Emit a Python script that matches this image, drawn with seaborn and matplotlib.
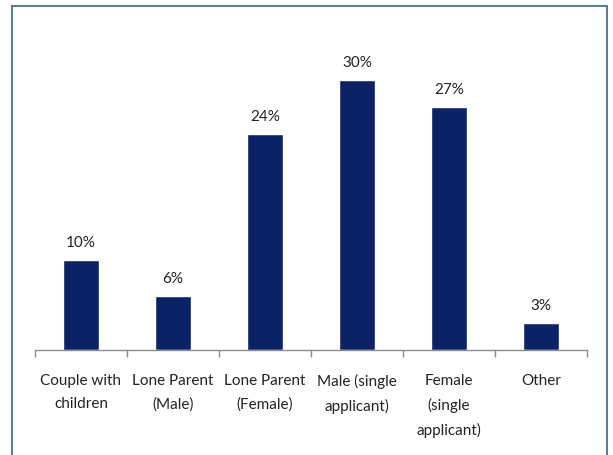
import pandas as pd
import numpy as np
import matplotlib.pyplot as plt
import matplotlib.patches as mpatches
from matplotlib.ticker import FixedLocator
import seaborn as sns

categories = ["Couple with\nchildren", "Lone Parent\n(Male)", "Lone Parent\n(Female)",
              "Male (single\napplicant)", "Female\n(single\napplicant)", "Other"]
shares = [10, 6, 24, 30, 27, 3]

BAR_COLOR = "#0b2364"
AXIS_COLOR = "#8c8c8c"

sns.set_theme(style="white")
plt.rcParams["font.family"] = ["Lato", "DejaVu Sans"]

df = pd.DataFrame({"category": categories, "share": shares})

fig = plt.figure(figsize=(6.13, 4.55), dpi=100)
ax = fig.add_axes([35 / 613, 105 / 455, 552 / 613, 315 / 455])

sns.barplot(data=df, x="category", y="share", color=BAR_COLOR, width=0.4,
            saturation=1, ax=ax)

ax.set_ylim(0, 35)
ax.set_xlim(-0.5, len(categories) - 0.5)
ax.set_xlabel("")
ax.set_ylabel("")
ax.set_yticks([])

for s in ["top", "right", "left"]:
    ax.spines[s].set_visible(False)
ax.spines["bottom"].set_color(AXIS_COLOR)
ax.spines["bottom"].set_linewidth(1)

# labels above bars
for i, v in enumerate(shares):
    ax.annotate(f"{v}%", (i, v), xytext=(0, 7), textcoords="offset points",
                ha="center", va="bottom", fontsize=11, color="#222222")

# category labels, ticks at boundaries
ax.tick_params(axis="x", which="major", bottom=False, length=0, pad=17,
               labelsize=11, labelcolor="#222222")
ax.xaxis.set_minor_locator(FixedLocator(np.arange(-0.5, len(categories), 1)))
ax.tick_params(axis="x", which="minor", bottom=True, length=5, width=1,
               color=AXIS_COLOR, direction="out")
for lbl in ax.get_xticklabels():
    lbl.set_linespacing(1.85)
    lbl.set_va("top")

# outer frame
frame = mpatches.Rectangle((12 / 613, -0.02), 595 / 613, 1 - 6 / 455 + 0.02,
                           transform=fig.transFigure, fill=False,
                           edgecolor="#5a7e99", linewidth=1.5)
fig.patches.append(frame)

fig.savefig("out.png", dpi=100)
